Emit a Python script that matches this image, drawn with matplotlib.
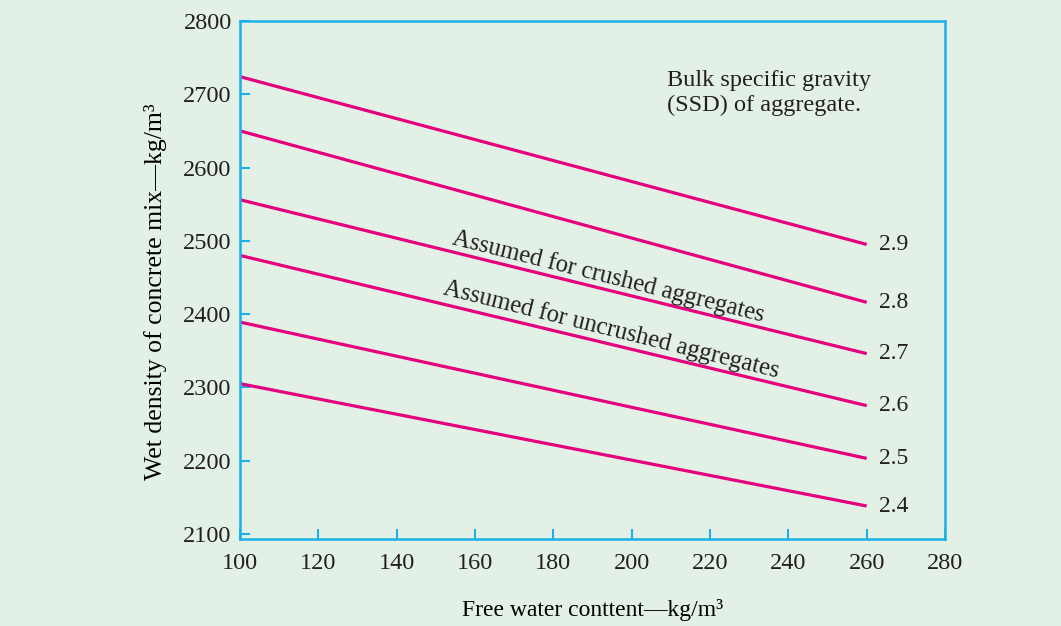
import matplotlib.pyplot as plt

# Wet density lines for each bulk specific gravity (SSD)
gravity = ['2.9', '2.8', '2.7', '2.6', '2.5', '2.4']
water = [100, 260]
density_start = [2724, 2650, 2556, 2480, 2389, 2305]
density_end = [2495, 2416, 2346, 2275, 2203, 2138]

xticks = [100, 120, 140, 160, 180, 200, 220, 240, 260, 280]
yticks = [2100, 2200, 2300, 2400, 2500, 2600, 2700, 2800]

bg = '#e3f0e6'
spine_col = '#1ab0e8'
line_col = '#e5007d'
text_col = '#231f20'

plt.rcParams['font.family'] = ['Liberation Serif', 'DejaVu Serif']
plt.rcParams['text.color'] = text_col

fig = plt.figure(figsize=(10.61, 6.26), dpi=100, facecolor=bg)
ax = fig.add_axes([0.2262, 0.139, 0.6645, 0.8275], facecolor=bg)

for g, y0, y1 in zip(gravity, density_start, density_end):
    ax.plot(water, [y0, y1], color=line_col, lw=2.3, solid_capstyle='butt')
    ax.annotate(g, (water[1], y1), xytext=(9, 0), textcoords='offset points',
                ha='left', va='center', fontsize=17, color=text_col)

ax.set_xlim(100, 280)
ax.set_ylim(2093, 2800)
ax.set_xticks(xticks)
ax.set_yticks(yticks)
ax.tick_params(direction='in', length=7, width=1.5, color=spine_col,
               labelsize=17.5, labelcolor=text_col)
ax.tick_params(axis='x', pad=10)
ax.tick_params(axis='y', pad=6)
for s in ax.spines.values():
    s.set_color(spine_col)
    s.set_linewidth(1.8)

ax.set_xlabel('Free water conttent\u2014kg/m\u00b3', fontsize=17, labelpad=18)
ax.set_ylabel('Wet density of concrete mix\u2014kg/m\u00b3', fontsize=18.5)
ax.yaxis.set_label_coords(-0.104, 0.478)

ax.text(0.606, 0.905, 'Bulk specific gravity\n(SSD) of aggregate.', transform=ax.transAxes,
        ha='left', va='top', fontsize=17.5, linespacing=1.2)

ax.text(154, 2495, 'Assumed for crushed aggregates', rotation=-14, rotation_mode='anchor',
        ha='left', va='baseline', fontsize=17.7)
ax.text(151.5, 2427, 'Assumed for uncrushed aggregates', rotation=-14, rotation_mode='anchor',
        ha='left', va='baseline', fontsize=17.7)

plt.savefig('out.png', dpi=100, facecolor=bg)
